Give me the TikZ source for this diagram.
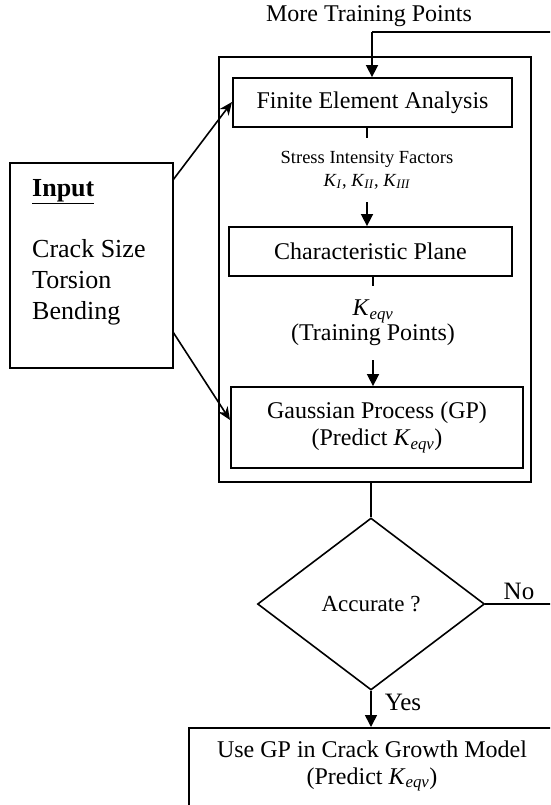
\documentclass[tikz,border=0pt]{standalone}
\usepackage{fontspec}
\setmainfont{Liberation Serif}
\usetikzlibrary{arrows.meta,shapes.geometric}
\begin{document}
\begin{tikzpicture}[x=1pt,y=-1pt,
  box/.style={draw,line width=1.8pt,inner sep=0pt},
  conn/.style={line width=1.6pt},
  arr/.style={line width=1.6pt,-{Triangle[length=12pt,width=12pt]}},
  sarr/.style={line width=1.6pt,-{Stealth[length=13pt,width=11pt]}},
  lbl/.style={inner sep=0pt,font=\fontsize{24}{27}\selectfont,align=center}]
\useasboundingbox (0,0) rectangle (550,805);
\clip (0,0) rectangle (550,805);
% container and boxes
\node[box,line width=2pt,minimum width=312pt,minimum height=425pt] (cont) at (375,269.5) {};
\node[box,minimum width=279pt,minimum height=49pt,font=\fontsize{24}{27}\selectfont] (fea) at (372.5,102.5) {Finite Element Analysis};
\node[box,minimum width=283pt,minimum height=49pt,font=\fontsize{24}{27}\selectfont] (cp) at (370.5,251.5) {Characteristic Plane};
\node[box,minimum width=292pt,minimum height=81pt,align=center,font=\fontsize{24}{27}\selectfont] (gp) at (377,427.5) {Gaussian Process (GP)\\(Predict \textit{K}\textsubscript{\textit{eqv}})};
\node[box,line width=2pt,minimum width=163pt,minimum height=205pt] (input) at (91.5,265.5) {};
\node[inner sep=0pt,anchor=west,align=left,font=\fontsize{26}{30.7}\selectfont] (inputtext) at (32,252) {\textbf{\underline{Input}}\\[30.7pt]Crack Size\\Torsion\\Bending};
% intermediate labels
\node[inner sep=0pt,minimum height=64pt,align=center,font=\fontsize{18.5}{23}\selectfont] (sif) at (367,170) {Stress Intensity Factors\\\textit{K}\textsubscript{\textit{I}}, \textit{K}\textsubscript{\textit{II}}, \textit{K}\textsubscript{\textit{III}}};
\node[inner sep=0pt,minimum height=74pt,align=center,font=\fontsize{24}{25}\selectfont] (keqv) at (373,323) {\textit{K}\textsubscript{\textit{eqv}}\\(Training Points)};
% decision
\node[draw,diamond,line width=1.6pt,inner sep=0pt,minimum width=227pt,minimum height=172pt,font=\fontsize{23}{27}\selectfont] (acc) at (371,604) {Accurate ?};
% final box
\node[box,anchor=north west,minimum width=380pt,minimum height=110pt] (final) at (188,727) {};
\node[lbl] (finaltext) at (372,766) {Use GP in Crack Growth Model\\(Predict \textit{K}\textsubscript{\textit{eqv}})};
% labels
\node[lbl] (more) at (369,16) {More Training Points};
\node[inner sep=0pt,font=\fontsize{25}{27}\selectfont] (no) at (519,591) {No};
\node[inner sep=0pt,font=\fontsize{25}{27}\selectfont] (yes) at (403,702) {Yes};
% connectors
\draw[conn] (fea.south -| sif) -- (sif.north);
\draw[arr] (sif.south) -- (cp.north -| sif);
\draw[conn] (cp.south -| keqv) -- (keqv.north);
\draw[arr] (keqv.south) -- (gp.north -| keqv);
\draw[conn] (cont.south -| acc) -- (acc.north);
\draw[arr] (acc.south) -- (final.north -| acc);
\coordinate (r1) at (553,604);
\coordinate (r2) at (553,32);
\coordinate (r3) at (372,32);
\draw[conn] (acc.east) -- (r1) -- (r2) -- (r3);
\draw[arr] (r3) -- (fea.north -| r3);
\coordinate (in1) at (173,180);
\coordinate (in2) at (173,332);
\draw[sarr] (in1) -- (232,102);
\draw[sarr] (in2) -- (230,420);
\end{tikzpicture}
\end{document}
